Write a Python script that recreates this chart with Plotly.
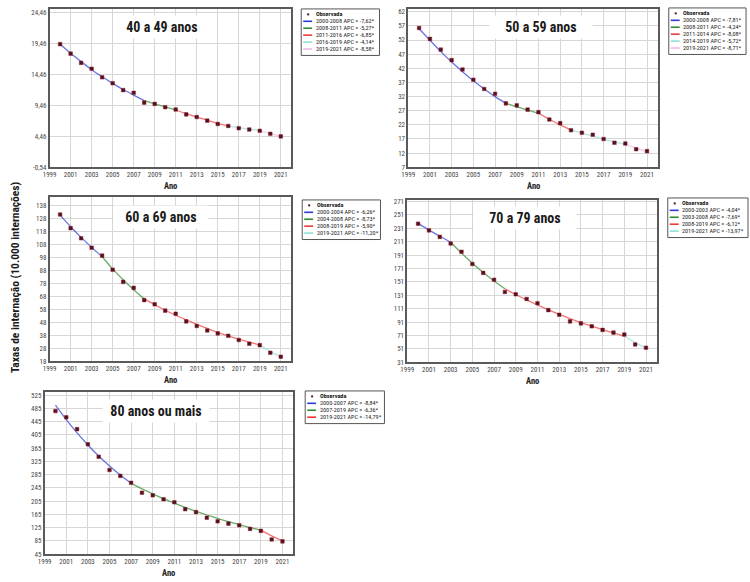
import plotly.graph_objects as go
import numpy as np

W, H = 750, 582

years = list(range(2000, 2022))

# ---------------- data ----------------
obs_40_49 = [19.32, 17.79, 16.30, 15.35, 13.97, 13.02, 11.91, 11.48, 9.89, 9.68, 9.15,
             8.78, 7.99, 7.56, 6.98, 6.45, 6.13, 5.76, 5.55, 5.34, 4.86, 4.44]
fit_40_49 = [19.3, 17.85, 16.5, 15.2, 14.05, 13.0, 12.0, 11.1, 10.2, 9.7, 9.2,
             8.7, 8.1, 7.55, 7.05, 6.55, 6.1, 5.85, 5.6, 5.35, 4.9, 4.45]
seg_40_49 = [("2000-2008 APC = -7,62*", 2000, 2008),
             ("2008-2011 APC = -5,27*", 2008, 2011),
             ("2011-2016 APC = -6,85*", 2011, 2016),
             ("2016-2019 APC = -4,14*", 2016, 2019),
             ("2019-2021 APC = -8,58*", 2019, 2021)]

obs_50_59 = [56.25, 52.4, 48.6, 44.9, 41.6, 37.96, 34.7, 33.0, 29.6, 28.9, 27.4,
             26.5, 23.9, 22.6, 20.1, 19.2, 18.5, 17.0, 15.7, 15.4, 13.4, 12.7]
fit_50_59 = [56.0, 51.9, 47.9, 44.2, 40.8, 37.6, 34.7, 32.0, 29.6, 28.4, 27.2,
             26.1, 24.0, 22.0, 20.2, 19.1, 18.0, 16.9, 16.0, 15.1, 13.8, 12.6]
seg_50_59 = [("2000-2008 APC = -7,81*", 2000, 2008),
             ("2008-2011 APC = -4,24*", 2008, 2011),
             ("2011-2014 APC = -8,08*", 2011, 2014),
             ("2014-2019 APC = -5,72*", 2014, 2019),
             ("2019-2021 APC = -8,71*", 2019, 2021)]

obs_60_69 = [131.0, 120.5, 112.7, 105.4, 99.3, 88.5, 79.1, 74.5, 65.1, 61.9, 57.0,
             54.6, 48.7, 45.2, 41.7, 39.5, 37.6, 34.4, 31.5, 30.4, 24.5, 21.5]
fit_60_69 = [130.5, 121.6, 113.4, 105.7, 98.5, 89.1, 80.7, 73.0, 66.0, 61.5, 57.3,
             53.4, 49.8, 46.4, 43.3, 40.3, 37.6, 35.0, 32.7, 30.5, 25.6, 21.5]
seg_60_69 = [("2000-2004 APC = -6,26*", 2000, 2004),
             ("2004-2008 APC = -8,73*", 2004, 2008),
             ("2008-2019 APC = -5,90*", 2008, 2019),
             ("2019-2021 APC = -11,20*", 2019, 2021)]

obs_70_79 = [238.0, 228.1, 218.3, 208.4, 196.1, 177.9, 164.5, 154.2, 136.0, 132.5, 125.6,
             119.2, 108.9, 102.0, 92.1, 89.1, 84.7, 79.3, 75.3, 72.4, 57.6, 52.7]
fit_70_79 = [238.5, 228.6, 219.2, 210.3, 194.0, 179.0, 165.2, 152.5, 140.8, 132.2, 124.1,
             116.5, 109.3, 102.6, 96.3, 90.4, 84.9, 79.7, 74.8, 70.2, 60.4, 52.0]
seg_70_79 = [("2000-2003 APC = -4,04*", 2000, 2003),
             ("2003-2008 APC = -7,69*", 2003, 2008),
             ("2008-2019 APC = -6,12*", 2008, 2019),
             ("2019-2021 APC = -13,97*", 2019, 2021)]

obs_80 = [477.3, 458.4, 422.6, 376.9, 339.2, 299.4, 281.5, 260.7, 230.8, 222.9, 211.0,
          202.0, 181.1, 172.2, 155.3, 144.4, 137.4, 132.5, 121.5, 115.6, 89.7, 83.8]
fit_80 = [495.0, 451.2, 411.3, 375.0, 341.8, 311.6, 284.1, 259.0, 242.5, 227.1, 212.7,
          199.1, 186.5, 174.6, 163.5, 153.1, 143.4, 134.2, 125.7, 117.7, 100.3, 85.5]
seg_80 = [("2000-2007 APC = -8,84*", 2000, 2007),
          ("2007-2019 APC = -6,36*", 2007, 2019),
          ("2019-2021 APC = -14,79*", 2019, 2021)]

titles = ["40 a 49 anos", "50 a 59 anos", "60 a 69 anos", "70 a 79 anos", "80 anos ou mais"]
x_ticks = list(range(1999, 2022, 2))

# ---------------- layout / style ----------------
FONT = "Liberation Sans Narrow, Roboto Condensed, Arial Narrow, Liberation Sans, sans-serif"
seg_colors = ["#2b3bd6", "#2e8b2e", "#f03a3a", "#8fe0d4", "#f2b6e6"]
obs_color = "#4a1420"

panels = [
    dict(obs=obs_40_49, fit=fit_40_49, seg=seg_40_49, box=(43, 287, 7, 167), yr=(-0.54, 25.0),
         t0=-0.54, dt=5, dec=2, tpos=(0.467, 0.888), tw=92, leg=(297, 7, 376)),
    dict(obs=obs_50_59, fit=fit_50_59, seg=seg_50_59, box=(405, 657, 7, 167), yr=(7, 63.0),
         t0=7, dt=5, dec=0, tpos=(0.532, 0.888), tw=100, leg=(668, 6, 746)),
    dict(obs=obs_60_69, fit=fit_60_69, seg=seg_60_69, box=(43, 287, 197, 363), yr=(18, 144.5),
         t0=18, dt=10, dec=0, tpos=(0.459, 0.88), tw=92, leg=(298, 200, 377)),
    dict(obs=obs_70_79, fit=fit_70_79, seg=seg_70_79, box=(404, 656, 200, 364), yr=(31, 273.5),
         t0=31, dt=20, dec=0, tpos=(0.472, 0.89), tw=100, leg=(667, 198, 748)),
    dict(obs=obs_80, fit=fit_80, seg=seg_80, box=(38, 289, 394, 558), yr=(45, 535),
         t0=45, dt=40, dec=0, tpos=(0.446, 0.884), tw=104, leg=(301, 393, 381)),
]


def px(x):
    return x / W


def py(y):
    return 1 - y / H


fig = go.Figure()
annotations = []
shapes = []
layout_axes = {}

for i, p in enumerate(panels):
    n = "" if i == 0 else str(i + 1)
    xa, ya = "x" + n, "y" + n
    x0, x1, y0, y1 = p["box"]
    tv = list(np.arange(p["t0"], p["yr"][1] + 1e-9, p["dt"]))
    if p["dec"]:
        tt = [f"{v:.2f}".replace(".", ",") for v in tv]
    else:
        tt = [f"{v:.0f}" for v in tv]

    layout_axes["xaxis" + n] = dict(
        domain=[px(x0), px(x1)], anchor=ya, range=[1999, 2022],
        tickvals=x_ticks, ticktext=[str(v) for v in x_ticks],
        showgrid=True, gridcolor="#d6d6d6", gridwidth=1, zeroline=False,
        showline=True, mirror=True, linecolor="#5a5a5a", linewidth=1.5,
        ticks="", tickfont=dict(family=FONT, size=7, color="#444"),
    )
    layout_axes["yaxis" + n] = dict(
        domain=[py(y1), py(y0)], anchor=xa, range=list(p["yr"]),
        tickvals=tv, ticktext=tt,
        showgrid=True, gridcolor="#d6d6d6", gridwidth=1, zeroline=False,
        showline=True, mirror=True, linecolor="#5a5a5a", linewidth=1.5,
        ticks="", tickfont=dict(family=FONT, size=7, color="#444"),
    )

    # fitted segments
    for k, (lab, s, e) in enumerate(p["seg"]):
        idx = [j for j, yv in enumerate(years) if s <= yv <= e]
        fig.add_trace(go.Scatter(
            x=[years[j] for j in idx], y=[p["fit"][j] for j in idx], mode="lines",
            line=dict(color=seg_colors[k], width=1.3, shape="spline", smoothing=0.6),
            opacity=0.7, xaxis=xa, yaxis=ya, showlegend=False, hoverinfo="skip"))
    # observed
    fig.add_trace(go.Scatter(
        x=years, y=p["obs"], mode="markers",
        marker=dict(symbol="square", size=3.6, color=obs_color, line=dict(width=0.5, color="#a02030")),
        xaxis=xa, yaxis=ya, showlegend=False))

    # panel title
    annotations.append(dict(
        text=f"<b>{titles[i]}</b>", xref=xa + " domain", yref=ya + " domain",
        x=p["tpos"][0], y=p["tpos"][1], xanchor="center", yanchor="middle", showarrow=False,
        bgcolor="white", width=p["tw"], height=20,
        font=dict(family=FONT, size=14, color="#1a1a1a")))
    # "Ano"
    annotations.append(dict(
        text="<b>Ano</b>", xref="paper", yref="paper", x=px((x0 + x1) / 2), y=py(y1 + 19),
        xanchor="center", yanchor="middle", showarrow=False,
        font=dict(family=FONT, size=8.5, color="#222")))

    # custom legend box
    lx0, ly0, lx1 = p["leg"]
    rows = 1 + len(p["seg"])
    pitch = 7.0
    ly1 = ly0 + 4 + rows * pitch + 1
    shapes.append(dict(type="rect", xref="paper", yref="paper", x0=px(lx0), x1=px(lx1),
                       y0=py(ly1), y1=py(ly0), line=dict(color="#555", width=1), fillcolor="white",
                       layer="above"))
    for r in range(rows):
        cy = ly0 + 5.5 + r * pitch
        if r == 0:
            shapes.append(dict(type="rect", xref="paper", yref="paper",
                               x0=px(lx0 + 6), x1=px(lx0 + 8), y0=py(cy + 1), y1=py(cy - 1),
                               fillcolor=obs_color, line=dict(width=0), layer="above"))
            txt, bold = "Observada", True
        else:
            shapes.append(dict(type="line", xref="paper", yref="paper",
                               x0=px(lx0 + 2), x1=px(lx0 + 11), y0=py(cy), y1=py(cy),
                               line=dict(color=seg_colors[r - 1], width=1.6), layer="above"))
            txt, bold = p["seg"][r - 1][0], False
        annotations.append(dict(
            text=f"<b>{txt}</b>" if bold else txt, xref="paper", yref="paper",
            x=px(lx0 + 12.5), y=py(cy), xanchor="left", yanchor="middle", showarrow=False,
            font=dict(family=FONT, size=6.2, color="#222")))

# global y title
annotations.append(dict(
    text="<b>Taxas de internação (10.000 internações)</b>", xref="paper", yref="paper",
    x=px(8), y=py(278), textangle=-90, xanchor="center", yanchor="middle", showarrow=False,
    font=dict(family=FONT, size=11.5, color="#1a1a1a")))

fig.update_layout(
    width=W, height=H, margin=dict(l=0, r=0, t=0, b=0),
    paper_bgcolor="white", plot_bgcolor="white", showlegend=False,
    annotations=annotations, shapes=shapes, **layout_axes)

fig.write_html("out.html")
